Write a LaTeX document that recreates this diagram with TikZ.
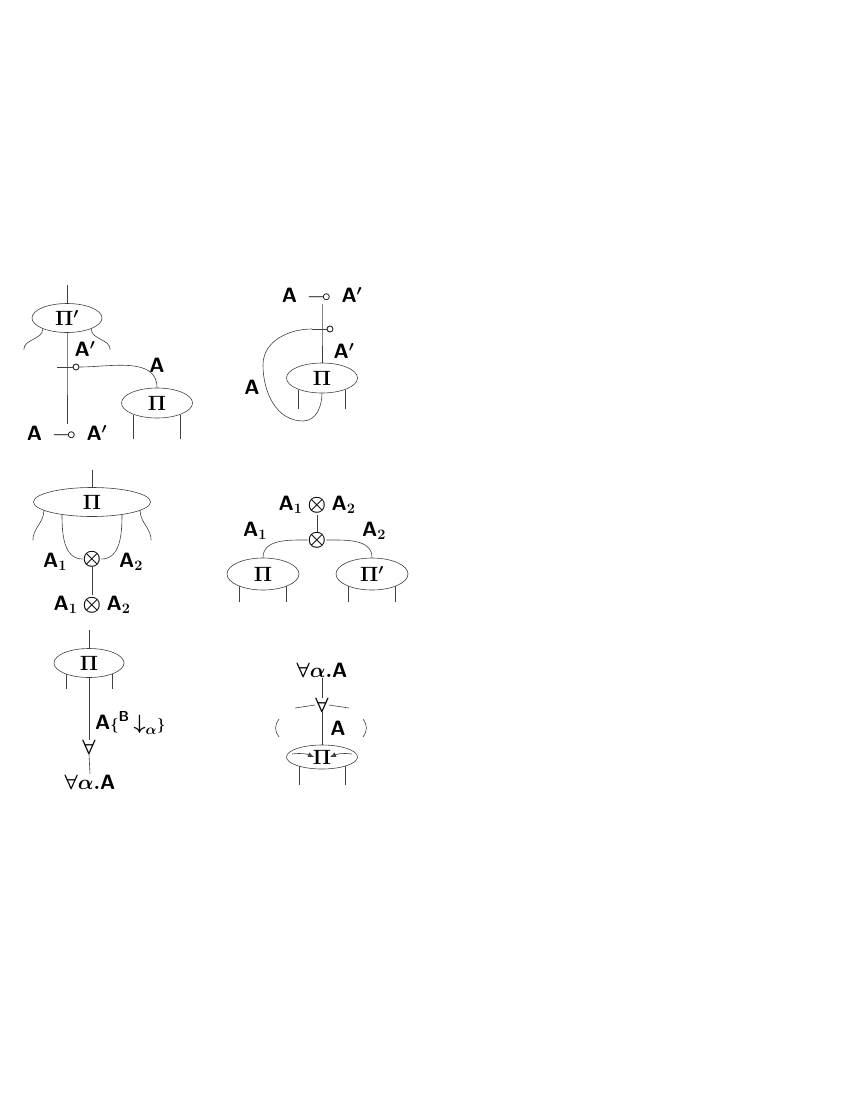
\documentclass[tikz,border=0pt]{standalone}
\usepackage{amsmath}
\usepackage{amssymb}
\usetikzlibrary{shapes.geometric,arrows.meta}

\begin{document}
\begin{tikzpicture}[x=1pt,y=-1pt,
    every node/.style={font=\fontsize{21}{23}\selectfont\boldmath},
    wire/.style={draw=black!75, line width=0.6pt},
    proof/.style={ellipse, draw=black!75, line width=0.6pt, minimum width=71pt, minimum height=30pt, inner sep=0pt},
    lbl/.style={inner sep=1pt},
    lollo/.style={circle, draw=black!85, line width=0.9pt, inner sep=0pt, minimum size=6pt},
    conn/.style={inner sep=0pt}]
    \useasboundingbox (0,0) rectangle (850,1100);

    % Implication link cut against a proof (top left)
    \coordinate (top1) at (67,285);
    \node[proof, minimum width=70pt, minimum height=29pt] (pa) at (67,318) {$\Pi'$};
    \coordinate (lo1) at (67,367);
    \node[lollo] (lo1c) at (76,367) {};
    \node[proof] (pb) at (157,403) {$\Pi$};
    \node[lbl] (f1) at (67,433) {$\mathsf{A}\,\multimap\,\mathsf{A}'$};
    \node[lbl] (ta1) at (85,349) {$\mathsf{A}'$};
    \node[lbl] (ta2) at (157,365) {$\mathsf{A}$};
    \draw[wire] (top1) -- (pa.north);
    \draw[wire] (pa.south) -- (lo1) -- (f1.north);
    \draw[wire, line width=0.9pt] ([xshift=-10pt]lo1) -- (lo1c.west);
    \draw[wire] (lo1c.east) to[out=0,in=90] (pb.north);
    \draw[wire] (pa.204) to[out=-90,in=90] ++(-19,21);
    \draw[wire] (pa.336) to[out=-90,in=90] ++(19,21);
    \foreach \a in {206,334}
        \draw[wire] (pb.\a) -- ++(0,24);

    % Implication link with its loop (top right)
    \node[lbl] (f2) at (322,295) {$\mathsf{A}\,\multimap\,\mathsf{A}'$};
    \coordinate (lo2) at (322,329);
    \coordinate (lo2w) at (312,329);
    \node[lollo] (lo2c) at (330,329) {};
    \node[proof] (pc) at (322,378) {$\Pi$};
    \node[lbl] (tb1) at (344,351) {$\mathsf{A}'$};
    \node[lbl] (tb2) at (252,387) {$\mathsf{A}$};
    \draw[wire] (f2.south) -- (lo2) -- (pc.north);
    \draw[wire, line width=0.9pt] (lo2w) -- (lo2c.west);
    \draw[wire] (lo2w) to[out=180,in=90] (263,365) to[out=-90,in=180] (303,421) to[out=0,in=-90] (pc.south);
    \foreach \a in {206,334}
        \draw[wire] (pc.\a) -- ++(0,19);

    % Tensor link under one proof (middle left)
    \coordinate (top3) at (92,470);
    \node[proof, minimum width=117pt, minimum height=29pt] (pd) at (92,502) {$\Pi$};
    \node[conn] (ot1) at (92,559) {$\otimes$};
    \node[lbl] (f3) at (92,605) {$\mathsf{A}_1\otimes\mathsf{A}_2$};
    \node[lbl] (tc1) at (55,562) {$\mathsf{A}_1$};
    \node[lbl] (tc2) at (131,562) {$\mathsf{A}_2$};
    \draw[wire] (top3) -- (pd.north);
    \draw[wire] (pd.203) to[out=-90,in=180] (ot1.west);
    \draw[wire] (pd.337) to[out=-90,in=0] (ot1.east);
    \draw[wire] (ot1.south) -- (f3.north);
    \draw[wire] (pd.190) to[out=-90,in=90] ++(-11,30);
    \draw[wire] (pd.350) to[out=-90,in=90] ++(11,30);

    % Tensor link over two proofs (middle right)
    \node[lbl] (f4) at (317,505) {$\mathsf{A}_1\otimes\mathsf{A}_2$};
    \node[conn] (ot2) at (317,540) {$\otimes$};
    \node[proof, minimum width=72pt, minimum height=32pt] (pe) at (263,574) {$\Pi$};
    \node[proof, minimum width=72pt, minimum height=32pt] (pf) at (372,574) {$\Pi'$};
    \node[lbl] (td1) at (255,531) {$\mathsf{A}_1$};
    \node[lbl] (td2) at (374,531) {$\mathsf{A}_2$};
    \draw[wire] (f4.south) -- (ot2.north);
    \draw[wire] (ot2.west) to[out=180,in=90] (pe.north);
    \draw[wire] (ot2.east) to[out=0,in=90] (pf.north);
    \foreach \p in {pe,pf}
        \foreach \a in {208,332}
            \draw[wire] (\p.\a) -- ++(0,16);

    % Universal link under a proof (bottom left)
    \coordinate (top5) at (89,630);
    \node[proof, minimum width=70pt, minimum height=29pt] (pg) at (89,663) {$\Pi$};
    \node[conn] (fa1) at (89,747) {$\forall$};
    \node[lbl] (f5) at (90,782) {$\forall\alpha.\mathsf{A}$};
    \node[lbl, anchor=west] (te1) at (94,723) {$\mathsf{A}{\scriptstyle\{}^{\mathsf{B}}\,{\downarrow}_{\alpha}{\scriptstyle\}}$};
    \draw[wire] (top5) -- (pg.north);
    \draw[wire] (pg.south) -- (fa1.north);
    \draw[wire] (fa1.south) -- (f5.north);
    \foreach \a in {206,334}
        \draw[wire] (pg.\a) -- ++(0,15);

    % Universal link over a proof (bottom right)
    \node[lbl] (f6) at (322,670) {$\forall\alpha.\mathsf{A}$};
    \node[conn] (fa2) at (322,705) {$\forall$};
    \coordinate (fl) at (295,708);
    \coordinate (fr) at (349,708);
    \node[proof, minimum height=24pt] (ph) at (322,757) {$\Pi$};
    \node[lbl] (tf1) at (338,728) {$\mathsf{A}$};
    \draw[wire] (f6.south) -- (fa2.north);
    \draw[wire] (fa2.south) -- (ph.north);
    \draw[wire] (fl) -- (fa2.west);
    \draw[wire] (fr) -- (fa2.east);
    \draw[wire] (279,719) to[bend right=40] (279,737);
    \draw[wire] (363,719) to[bend left=40] (363,737);
    \draw[wire, -{Latex[length=6pt,width=5pt]}] ([xshift=6pt,yshift=3pt]ph.west) to[bend left=15] ([xshift=-8pt]ph.center);
    \draw[wire, -{Latex[length=6pt,width=5pt]}] ([xshift=-6pt,yshift=3pt]ph.east) to[bend right=15] ([xshift=8pt]ph.center);
    \foreach \a in {202,338}
        \draw[wire] (ph.\a) -- ++(0,19);
\end{tikzpicture}
\end{document}
